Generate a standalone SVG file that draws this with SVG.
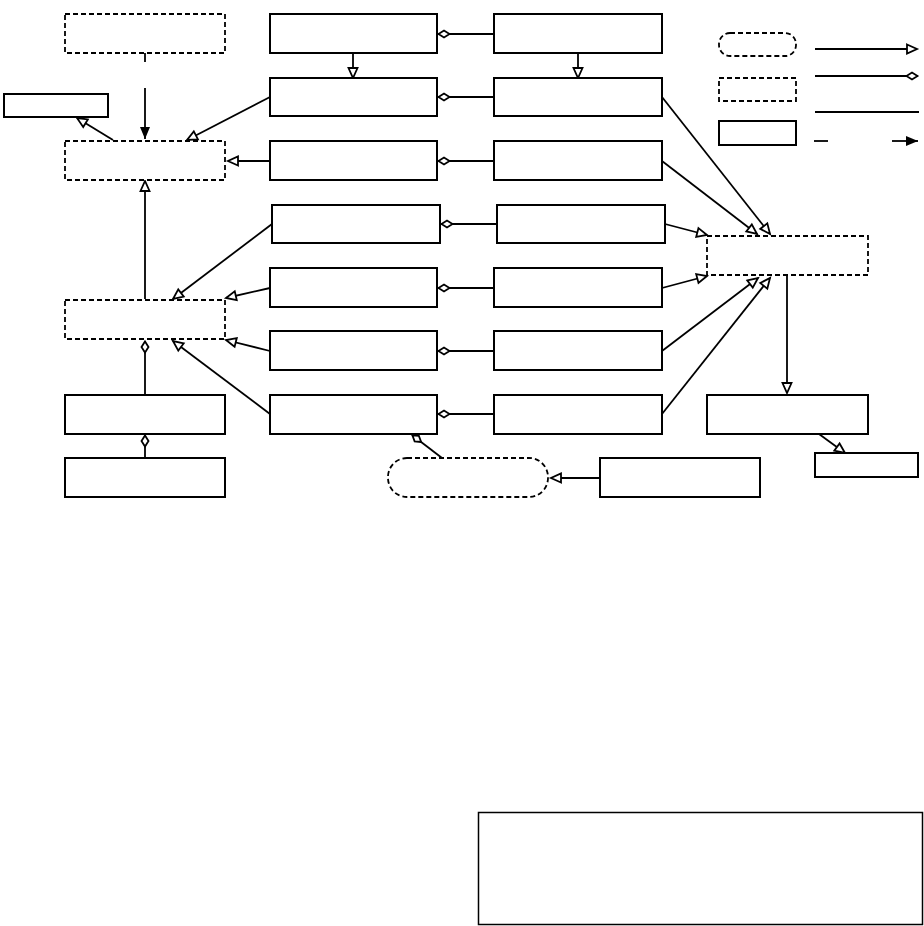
<svg xmlns="http://www.w3.org/2000/svg" width="924" height="926" viewBox="0 0 924 926">
<style>
.s{fill:#fff;stroke:#000;stroke-width:2}
.d{fill:#fff;stroke:#000;stroke-width:1.8;stroke-dasharray:5 3}
.l{fill:none;stroke:#000;stroke-width:1.8}
.t{marker-end:url(#tri)}
.m{marker-end:url(#dia)}
.f{marker-end:url(#fil)}
</style>
<defs>
<marker id="tri" markerUnits="userSpaceOnUse" markerWidth="14" markerHeight="12" refX="11" refY="5" orient="auto" overflow="visible">
<path d="M1,0.5 L11,5 L1,9.5 z" fill="#fff" stroke="#000" stroke-width="1.8"/>
</marker>
<marker id="dia" markerUnits="userSpaceOnUse" markerWidth="14" markerHeight="10" refX="12" refY="4" orient="auto" overflow="visible">
<path d="M0.5,4 L6,0.5 L11.5,4 L6,7.5 z" fill="#fff" stroke="#000" stroke-width="1.8"/>
</marker>
<marker id="fil" markerUnits="userSpaceOnUse" markerWidth="14" markerHeight="12" refX="12" refY="5" orient="auto" overflow="visible">
<path d="M0,0 L12,5 L0,10 z" fill="#000"/>
</marker>
</defs>
<rect width="924" height="926" fill="#fff"/>
<g id="connectors">
<line class="l t" x1="353" y1="53" x2="353" y2="78"/>
<line class="l t" x1="578" y1="53" x2="578" y2="78"/>
<line class="l m" x1="494" y1="34" x2="438" y2="34"/>
<line class="l m" x1="494" y1="97" x2="438" y2="97"/>
<line class="l m" x1="494" y1="161" x2="438" y2="161"/>
<line class="l m" x1="497" y1="224" x2="441" y2="224"/>
<line class="l m" x1="494" y1="288" x2="438" y2="288"/>
<line class="l m" x1="494" y1="351" x2="438" y2="351"/>
<line class="l m" x1="494" y1="414" x2="438" y2="414"/>
<line class="l t" x1="270" y1="97" x2="187" y2="140"/>
<line class="l t" x1="270" y1="161" x2="228" y2="161"/>
<line class="l t" x1="113" y1="140" x2="77" y2="118"/>
<line class="l" x1="145" y1="53" x2="145" y2="62"/>
<line class="l f" x1="145" y1="88" x2="145" y2="139"/>
<line class="l t" x1="145" y1="299" x2="145" y2="181"/>
<line class="l t" x1="272" y1="224" x2="173" y2="299"/>
<line class="l t" x1="270" y1="288" x2="226" y2="298"/>
<line class="l t" x1="270" y1="351" x2="226" y2="340"/>
<line class="l t" x1="270" y1="414" x2="173" y2="341"/>
<line class="l m" x1="145" y1="395" x2="145" y2="341"/>
<line class="l m" x1="145" y1="458" x2="145" y2="435"/>
<line class="l m" x1="442" y1="458" x2="412" y2="435"/>
<line class="l t" x1="600" y1="478" x2="551" y2="478"/>
<line class="l t" x1="662" y1="97" x2="770" y2="234"/>
<line class="l t" x1="662" y1="161" x2="757" y2="234"/>
<line class="l t" x1="665" y1="224" x2="707" y2="235"/>
<line class="l t" x1="662" y1="288" x2="707" y2="276"/>
<line class="l t" x1="662" y1="351" x2="758" y2="278"/>
<line class="l t" x1="662" y1="414" x2="770" y2="278"/>
<line class="l t" x1="787" y1="275" x2="787" y2="393"/>
<line class="l t" x1="819" y1="434" x2="845" y2="453"/>
</g>
<g id="legend">
<rect class="d" x="719" y="33" width="77" height="23" rx="11"/>
<rect class="d" x="719" y="78" width="77" height="23"/>
<rect class="s" x="719" y="121" width="77" height="24"/>
<line class="l t" x1="815" y1="49" x2="917" y2="49"/>
<line class="l m" x1="815" y1="76" x2="918" y2="76"/>
<line class="l" x1="815" y1="112" x2="919" y2="112"/>
<line class="l" x1="814" y1="141" x2="828" y2="141"/>
<line class="l f" x1="892" y1="141" x2="918" y2="141"/>
</g>
<g id="nA"><rect class="d" x="65" y="14" width="160" height="39"/></g>
<g id="nB"><rect class="s" x="4" y="94" width="104" height="23"/></g>
<g id="nC"><rect class="d" x="65" y="141" width="160" height="39"/></g>
<g id="nD"><rect class="d" x="65" y="300" width="160" height="39"/></g>
<g id="nE"><rect class="s" x="65" y="395" width="160" height="39"/></g>
<g id="nF"><rect class="s" x="65" y="458" width="160" height="39"/></g>
<g id="r1"><rect class="s" x="270" y="14" width="167" height="39"/></g>
<g id="r2"><rect class="s" x="270" y="78" width="167" height="38"/></g>
<g id="r3"><rect class="s" x="270" y="141" width="167" height="39"/></g>
<g id="r4"><rect class="s" x="272" y="205" width="168" height="38"/></g>
<g id="r5"><rect class="s" x="270" y="268" width="167" height="39"/></g>
<g id="r6"><rect class="s" x="270" y="331" width="167" height="39"/></g>
<g id="r7"><rect class="s" x="270" y="395" width="167" height="39"/></g>
<g id="q1"><rect class="s" x="494" y="14" width="168" height="39"/></g>
<g id="q2"><rect class="s" x="494" y="78" width="168" height="38"/></g>
<g id="q3"><rect class="s" x="494" y="141" width="168" height="39"/></g>
<g id="q4"><rect class="s" x="497" y="205" width="168" height="38"/></g>
<g id="q5"><rect class="s" x="494" y="268" width="168" height="39"/></g>
<g id="q6"><rect class="s" x="494" y="331" width="168" height="39"/></g>
<g id="q7"><rect class="s" x="494" y="395" width="168" height="39"/></g>
<g id="nR"><rect class="d" x="388" y="458" width="160" height="39" rx="19"/></g>
<g id="nS"><rect class="s" x="600" y="458" width="160" height="39"/></g>
<g id="nG"><rect class="d" x="707" y="236" width="161" height="39"/></g>
<g id="nH"><rect class="s" x="707" y="395" width="161" height="39"/></g>
<g id="nI"><rect class="s" x="815" y="453" width="103" height="24"/></g>
<g id="note"><rect x="478.5" y="812.5" width="444" height="112" fill="#fff" stroke="#000" stroke-width="1.5"/></g>
</svg>
